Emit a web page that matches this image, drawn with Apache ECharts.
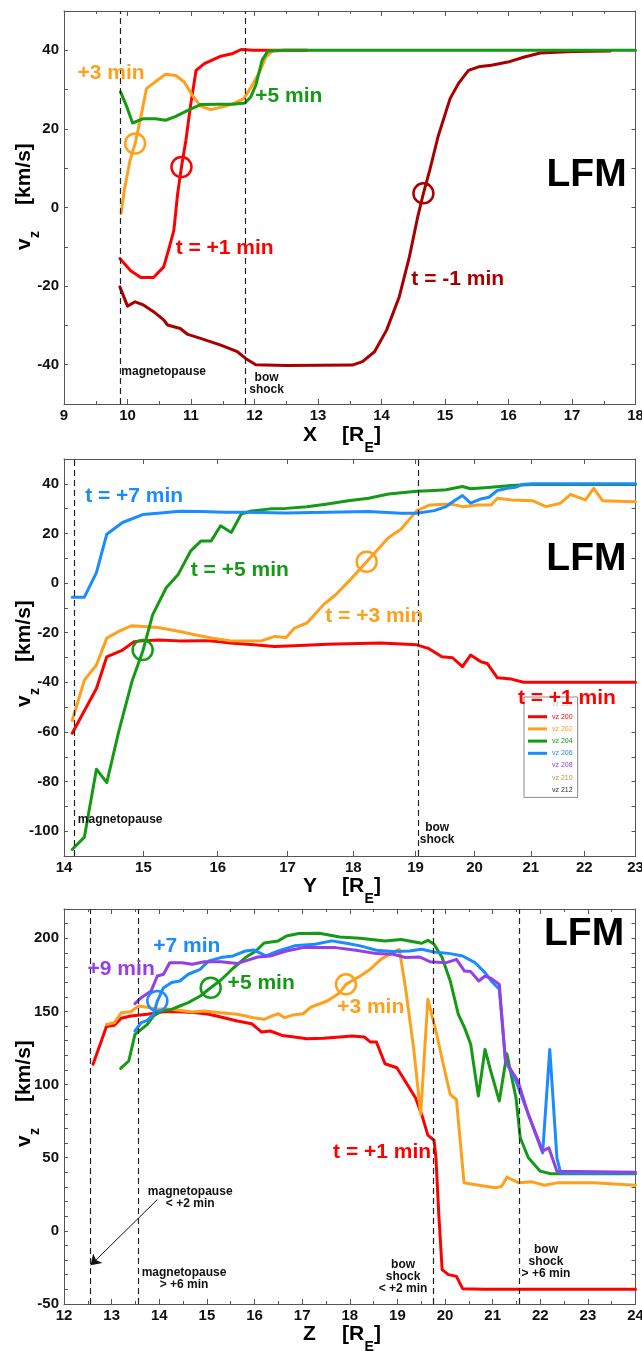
<!DOCTYPE html>
<html>
<head>
<meta charset="utf-8">
<title>LFM v_z cuts</title>
<script src="https://cdn.jsdelivr.net/npm/echarts@6/dist/echarts.min.js"></script>
<style>
  html, body { margin: 0; padding: 0; background: #ffffff; }
  #chart { width: 642px; height: 1351px; }
</style>
</head>
<body>
<div id="chart"></div>
<script>
// ---------------- data: v_z [km/s] along three cuts ----------------

// Cut along X [R_E]
const X_LABELS_V = [-40, -20, 0, 20, 40];
const X_BOUNDS = [9.88, 11.86];                       // magnetopause, bow shock
const X_T_M1 = [[9.88,-20.2],[10.0,-25.1],[10.12,-24.0],[10.25,-24.8],[10.41,-26.5],[10.57,-28.6],[10.63,-29.9],[10.83,-30.8],[10.95,-32.3],[11.15,-33.3],[11.47,-35.0],[11.73,-36.7],[11.86,-38.4],[12.02,-40.0],[12.5,-40.2],[13.54,-40.1],[13.7,-39.2],[13.89,-36.7],[14.08,-31.2],[14.28,-22.7],[14.44,-12.5],[14.57,-2.4],[14.66,3.6],[14.76,9.5],[14.89,18.0],[15.08,27.7],[15.21,31.5],[15.37,34.9],[15.53,35.8],[15.73,36.2],[15.99,37.0],[16.25,38.3],[16.5,39.3],[17.02,39.7],[17.6,39.8]];
const X_T_P1 = [[9.88,-13.0],[10.05,-16.1],[10.21,-17.8],[10.41,-17.8],[10.57,-15.1],[10.66,-10.0],[10.73,-5.8],[10.79,3.6],[10.85,10.3],[10.92,17.1],[10.99,25.6],[11.08,34.9],[11.21,36.6],[11.47,38.5],[11.66,39.2],[11.79,40.2],[11.99,40],[12.83,40]];
const X_T_P3 = [[9.9,-1.5],[9.95,4.4],[10.04,12.0],[10.12,16.3],[10.21,23.1],[10.3,30.3],[10.44,32.0],[10.6,33.9],[10.76,33.6],[10.89,32.0],[11.02,28.6],[11.15,25.8],[11.31,24.9],[11.5,25.6],[11.66,26.4],[11.83,27.7],[11.95,30.7],[12.08,34.5],[12.18,38.3],[12.28,39.8],[12.5,40]];
const X_T_P5 = [[9.89,29.4],[9.99,25.6],[10.08,21.5],[10.25,22.6],[10.44,22.6],[10.6,22.2],[10.76,23.2],[10.95,24.7],[11.15,26.2],[11.41,26.3],[11.66,26.3],[11.85,26.6],[11.94,28.1],[12.02,31.1],[12.12,37.5],[12.21,39.8],[12.5,40],[18,40]];
const X_MARK_M1 = [14.66, 3.6];
const X_MARK_P1 = [10.85, 10.3];
const X_MARK_P3 = [10.12, 16.3];

// Cut along Y [R_E] (logarithmic distance axis)
const Y_TICKS = [14, 15, 16, 17, 18, 19, 20, 21, 22, 23];
const Y_LABELS_V = [-100, -80, -60, -40, -20, 0, 20, 40];
const Y_BOUNDS = [14.12, 19.05];
const Y_T_P1 = [[14.1,-60.5],[14.4,-42.5],[14.53,-29.7],[14.73,-27.0],[14.88,-23.6],[14.99,-23.3],[15.19,-22.9],[15.48,-23.3],[15.82,-23.2],[16.0,-23.6],[16.17,-24.2],[16.51,-24.9],[16.81,-25.6],[17.1,-25.3],[17.6,-24.7],[18.43,-24.2],[19.02,-24.9],[19.21,-26.3],[19.44,-29.7],[19.62,-30.1],[19.79,-33.7],[19.93,-29.0],[20.11,-31.7],[20.22,-32.4],[20.4,-38.2],[20.65,-38.7],[20.87,-40.0],[23,-40.0]];
const Y_T_P3 = [[14.1,-55.4],[14.25,-39.1],[14.4,-33.0],[14.53,-22.2],[14.68,-19.5],[14.85,-17.2],[14.99,-17.5],[15.19,-17.9],[15.48,-19.5],[15.7,-20.9],[15.93,-22.2],[16.17,-23.2],[16.39,-23.3],[16.63,-23.2],[16.81,-21.5],[16.98,-21.9],[17.1,-18.2],[17.29,-16.1],[17.54,-8.7],[17.73,-4.6],[17.98,2.1],[18.21,8.6],[18.56,18.4],[18.76,21.7],[19.02,29.2],[19.24,31.5],[19.58,31.9],[19.72,31.2],[19.79,30.8],[20.06,31.5],[20.29,31.5],[20.4,34.2],[20.65,33.5],[21.03,33.2],[21.28,30.8],[21.55,32.2],[21.74,35.7],[22.02,33.5],[22.18,38.2],[22.35,33.2],[23,32.8]];
const Y_T_P5 = [[14.1,-107.4],[14.25,-102.4],[14.4,-75.0],[14.53,-80.4],[14.68,-60.1],[14.85,-39.8],[14.99,-27.6],[15.12,-12.8],[15.3,-1.9],[15.46,3.5],[15.63,13],[15.77,17],[15.91,17],[16.04,23.1],[16.19,20.4],[16.33,27.8],[16.45,28.9],[16.75,29.9],[16.98,30.1],[17.29,30.8],[17.6,31.9],[17.92,33.2],[18.24,34.2],[18.56,35.9],[19.02,37.0],[19.31,37.3],[19.51,37.6],[19.79,38.9],[19.93,38.0],[20.29,38.6],[20.65,39.3],[21.03,39.7],[23,39.7]];
const Y_T_P7 = [[14.1,-5.7],[14.25,-5.7],[14.4,4.2],[14.53,19.7],[14.73,24.4],[14.99,27.6],[15.19,28.1],[15.48,28.9],[15.76,28.8],[16.1,28.5],[16.39,28.5],[16.98,28.2],[17.6,28.5],[18.24,28.8],[18.76,28.1],[19.02,28.1],[19.31,29.2],[19.51,30.8],[19.65,33.2],[19.79,35.3],[19.93,32.2],[20.11,33.9],[20.25,34.6],[20.4,37.3],[20.58,38.2],[20.72,38.6],[20.84,39.7],[21.03,40],[23,40]];
const Y_MARK_P5 = [14.99, -27];
const Y_MARK_P3 = [18.21, 8.6];

// Cut along Z [R_E]
const Z_LABELS_V = [-50, 0, 50, 100, 150, 200];
const Z_BOUNDS = [12.55, 13.56, 19.75, 21.55];        // magnetopause <+2 / >+6 min, bow shock <+2 / >+6 min
const Z_T_P1 = [[12.61,113.8],[12.76,127.5],[12.89,139.6],[13.06,140.5],[13.2,145.3],[13.4,146.9],[13.75,148],[14.09,149.8],[14.43,149.8],[14.78,149.1],[15.04,148],[15.29,146.2],[15.64,143.4],[15.94,141.6],[16.15,135.9],[16.33,136.6],[16.58,133.6],[16.84,132.5],[17.1,131.3],[17.45,131.6],[17.79,132.5],[18.05,133.2],[18.31,132.5],[18.43,129.1],[18.56,129.1],[18.74,114.2],[18.99,111.5],[19.12,104.7],[19.25,97.8],[19.38,91],[19.51,79.6],[19.64,65.4],[19.77,61.8],[19.81,49.9],[19.87,11.1],[19.94,-26.5],[20.07,-29.9],[20.24,-31.1],[20.37,-39.5],[20.8,-40],[24,-40]];
const Z_T_P3 = [[12.89,141.1],[13.06,142.3],[13.2,149.1],[13.4,149.8],[13.57,153.7],[13.92,151.9],[14.26,151.4],[14.69,149.6],[14.95,150.3],[15.29,149.1],[15.64,148],[15.98,145.7],[16.2,144.6],[16.37,146.9],[16.5,148.4],[16.63,145.7],[16.8,147.5],[17.02,148.4],[17.19,153],[17.53,157.1],[17.79,162.8],[17.92,168.5],[18.22,174.2],[18.43,178.8],[18.65,185.6],[18.86,189.5],[19.04,192.5],[19.17,166.2],[19.34,125.2],[19.49,79.6],[19.64,158.3],[19.81,136.6],[19.98,111.5],[20.11,93.2],[20.24,89.8],[20.4,32.8],[20.71,31.2],[21.06,29.4],[21.19,30.5],[21.3,36.7],[21.55,32.8],[21.83,33.5],[22.09,31.2],[22.35,32.8],[23.12,32.8],[24,31.2]];
const Z_T_P5 = [[13.19,111],[13.36,116.1],[13.49,134.3],[13.75,141.1],[13.88,146.9],[14.05,150.3],[14.26,151.4],[14.43,153.7],[14.61,156],[14.86,160.5],[15.08,166.2],[15.29,171.3],[15.55,179.5],[15.81,186.8],[16.03,191.3],[16.2,196.8],[16.5,198.2],[16.67,201.6],[16.93,203.2],[17.36,203.4],[17.79,200.9],[18.22,200],[18.74,198.2],[19.08,199.1],[19.51,196.6],[19.64,198.6],[19.77,195.9],[19.94,186.8],[20.11,170.8],[20.28,148],[20.41,138.9],[20.54,127.5],[20.7,92.1],[20.84,124],[20.97,108.1],[21.14,88.7],[21.3,121],[21.49,91],[21.58,63.6],[21.75,50],[22.0,40.8],[22.22,39],[24,39]];
const Z_T_P7 = [[13.49,136.6],[13.62,142.3],[13.75,143.9],[13.88,148],[13.96,157.1],[14.09,166.2],[14.26,169.7],[14.43,170.8],[14.61,175.4],[14.86,178.8],[15.04,184.5],[15.29,186.8],[15.55,187.9],[15.81,191.3],[15.98,192],[16.24,187.9],[16.5,191.3],[16.84,194.8],[17.27,195.9],[17.62,198.2],[17.96,196.4],[18.22,194.8],[18.56,191.8],[18.91,190.9],[19.25,191.3],[19.51,192.5],[19.77,190.6],[20.11,189.5],[20.37,187.9],[20.63,183.3],[20.84,176.5],[20.97,170.8],[21.14,165.1],[21.27,116.1],[21.49,102.4],[21.75,79.6],[22.05,53.3],[22.2,124],[22.35,49.9],[22.43,39.5],[24,39.5]];
const Z_T_P9 = [[13.49,155.3],[13.62,159.4],[13.83,164],[13.96,174.2],[14.09,175.4],[14.22,183.3],[14.48,183.3],[14.69,182.2],[14.95,184],[15.29,184],[15.64,182.7],[15.81,184.5],[16.07,187.2],[16.33,187.9],[16.67,191.3],[17.02,193.6],[17.36,193.6],[17.7,193.6],[18.13,191.8],[18.56,189.5],[18.91,189.1],[19.17,186.8],[19.47,187.2],[19.68,184],[20.03,183.3],[20.24,185.6],[20.41,177.6],[20.54,177.2],[20.71,170.8],[20.84,174.2],[20.97,172.6],[21.14,168.5],[21.27,116.1],[21.53,102.4],[21.75,79.6],[22.05,54.5],[22.18,56.8],[22.35,40.8],[24,40]];
const Z_MARK_P7 = [13.96, 157.1];
const Z_MARK_P5 = [15.08, 166.2];
const Z_MARK_P3 = [17.92, 168.5];
const Z_ARROW = [[13.96, 21.4], [12.56, -23.5]];

// ---------------- styling ----------------
const FONT = "'Liberation Sans', Arial, Helvetica, sans-serif";
const AXIS = '#555555';
const COL = {
  darkred: '#a80000', red: '#ff0000', orange: '#ffa01c',
  green: '#159a15', blue: '#1a8cff', purple: '#9440e6'
};

const GRIDS = [
  { left: 64, right: 6.5, top: 11, height: 393 },
  { left: 64, right: 6.5, top: 459, height: 397 },
  { left: 64, right: 6.5, top: 909, height: 395 }
];

function tickStyle(len) {
  return { show: true, inside: true, length: len, lineStyle: { color: AXIS, width: 1 } };
}
const axisLine = { show: true, onZero: false, lineStyle: { color: AXIS, width: 1 } };
const tickFont = { color: '#111', fontSize: 15, fontWeight: 'bold', fontFamily: FONT };

function xAxes(p, spec) {
  const base = {
    gridIndex: p, min: spec.min, max: spec.max,
    axisLine, splitLine: { show: false }
  };
  const bottom = Object.assign({}, base, {
    type: spec.log ? 'log' : 'value', position: 'bottom',
    axisLabel: Object.assign({ margin: 4 }, tickFont),
    axisTick: tickStyle(5)
  });
  const top = Object.assign({}, base, {
    type: spec.log ? 'log' : 'value', position: 'top',
    axisLabel: { show: false }, axisTick: tickStyle(5)
  });
  [bottom, top].forEach(a => {
    if (spec.log) {
      a.logBase = 10;
      a.axisTick.customValues = spec.ticks;
      if (a.axisLabel.show !== false) a.axisLabel.customValues = spec.ticks;
      a.minorTick = { show: false };
    } else {
      a.interval = 1;
      a.minorTick = { show: true, splitNumber: 2, length: 3, lineStyle: { color: AXIS, width: 1 } };
    }
  });
  return [bottom, top];
}

function yAxes(p, min, max, labels) {
  const base = {
    type: 'value', gridIndex: p, min, max, interval: 10,
    axisLine, splitLine: { show: false }, axisTick: tickStyle(4)
  };
  return [
    Object.assign({}, base, {
      position: 'left',
      axisLabel: Object.assign({ margin: 5, formatter: v => labels.includes(v) ? String(v) : '' }, tickFont)
    }),
    Object.assign({}, base, { position: 'right', axisLabel: { show: false } })
  ];
}

function line(p, name, data, color, extra) {
  return Object.assign({
    type: 'line', name, xAxisIndex: 2 * p, yAxisIndex: 2 * p, data,
    symbol: 'none', showSymbol: false, silent: true,
    lineStyle: { color, width: 3, join: 'round', cap: 'round', opacity: 1 },
    itemStyle: { color, opacity: 1 }, z: 3
  }, extra || {});
}

function boundaries(values) {
  return {
    silent: true, symbol: 'none', animation: false,
    label: { show: false },
    lineStyle: { type: [6, 4], color: '#222', width: 1.2, opacity: 1 },
    data: values.map(v => ({ xAxis: v }))
  };
}

function rings(p, marks) {
  return {
    type: 'scatter', xAxisIndex: 2 * p, yAxisIndex: 2 * p, silent: true, z: 5,
    symbol: 'circle', symbolSize: 20,
    data: marks.map(m => ({
      value: m.at,
      itemStyle: { color: 'rgba(0,0,0,0)', borderColor: m.color, borderWidth: 2.5, opacity: 1 }
    }))
  };
}

function notes(p, items) {
  return {
    type: 'scatter', xAxisIndex: 2 * p, yAxisIndex: 2 * p, silent: true, z: 6,
    symbol: 'rect', symbolSize: 1, itemStyle: { color: 'rgba(0,0,0,0)', opacity: 1 },
    data: items.map(n => ({
      value: n.at,
      label: {
        show: true, position: 'inside', formatter: n.text, opacity: 1,
        color: n.color || '#111', fontSize: n.size, lineHeight: n.lh || n.size,
        fontWeight: 'bold', fontFamily: FONT, align: 'center', verticalAlign: 'middle',
        textBorderWidth: 0
      }
    }))
  };
}

const BIG = 21, SMALL = 12;

const series = [
  // ---- X cut ----
  line(0, 'X t-1', X_T_M1, COL.darkred, { markLine: boundaries(X_BOUNDS) }),
  line(0, 'X t+1', X_T_P1, COL.red),
  line(0, 'X t+3', X_T_P3, COL.orange),
  line(0, 'X t+5', X_T_P5, COL.green),
  rings(0, [
    { at: X_MARK_M1, color: COL.darkred },
    { at: X_MARK_P1, color: COL.red },
    { at: X_MARK_P3, color: COL.orange }
  ]),
  notes(0, [
    { at: [9.74, 34.2], text: '+3 min', color: COL.orange, size: BIG },
    { at: [12.54, 28.3], text: '+5 min', color: COL.green, size: BIG },
    { at: [11.53, -10.3], text: 't = +1 min', color: COL.red, size: BIG },
    { at: [15.2, -18.2], text: 't = -1 min', color: COL.darkred, size: BIG },
    { at: [17.23, 8.3], text: 'LFM', color: '#000', size: 39 },
    { at: [10.57, -41.8], text: 'magnetopause', size: SMALL },
    { at: [12.19, -44.8], text: 'bow\nshock', size: SMALL }
  ]),

  // ---- Y cut ----
  line(1, 'vz 200', Y_T_P1, COL.red, { markLine: boundaries(Y_BOUNDS) }),
  line(1, 'vz 202', Y_T_P3, COL.orange),
  line(1, 'vz 204', Y_T_P5, COL.green),
  line(1, 'vz 206', Y_T_P7, COL.blue),
  line(1, 'vz 198', [], '#c8c8c8'),
  line(1, 'vz 208', [], COL.purple),
  line(1, 'vz 210', [], '#b8963c'),
  line(1, 'vz 212', [], '#333333'),
  rings(1, [
    { at: Y_MARK_P5, color: COL.green },
    { at: Y_MARK_P3, color: COL.orange }
  ]),
  notes(1, [
    { at: [14.88, 34.9], text: 't = +7 min', color: COL.blue, size: BIG },
    { at: [16.31, 5.1], text: 't = +5 min', color: COL.green, size: BIG },
    { at: [18.33, -13.2], text: 't = +3 min', color: COL.orange, size: BIG },
    { at: [21.67, -46.6], text: 't = +1 min', color: COL.red, size: BIG },
    { at: [22.04, 9.6], text: 'LFM', color: '#000', size: 39 },
    { at: [14.7, -95.5], text: 'magnetopause', size: SMALL },
    { at: [19.36, -101.2], text: 'bow\nshock', size: SMALL }
  ]),

  // ---- Z cut ----
  line(2, 'Z t+1', Z_T_P1, COL.red, { markLine: boundaries(Z_BOUNDS) }),
  line(2, 'Z t+3', Z_T_P3, COL.orange, {
    markLine: {
      silent: true, animation: false, label: { show: false },
      symbol: ['none', 'arrow'], symbolSize: 10,
      itemStyle: { color: '#111', opacity: 1 },
      lineStyle: { type: 'solid', color: '#111', width: 1, opacity: 1 },
      data: [[{ coord: Z_ARROW[0] }, { coord: Z_ARROW[1] }]]
    }
  }),
  line(2, 'Z t+5', Z_T_P5, COL.green),
  line(2, 'Z t+7', Z_T_P7, COL.blue),
  line(2, 'Z t+9', Z_T_P9, COL.purple),
  rings(2, [
    { at: Z_MARK_P7, color: COL.blue },
    { at: Z_MARK_P5, color: COL.green },
    { at: Z_MARK_P3, color: COL.orange }
  ]),
  notes(2, [
    { at: [14.58, 194.8], text: '+7 min', color: COL.blue, size: BIG },
    { at: [13.2, 178.8], text: '+9 min', color: COL.purple, size: BIG },
    { at: [16.14, 169], text: '+5 min', color: COL.green, size: BIG },
    { at: [18.44, 153], text: '+3 min', color: COL.orange, size: BIG },
    { at: [18.68, 54], text: 't = +1 min', color: COL.red, size: BIG },
    { at: [22.92, 202.7], text: 'LFM', color: '#000', size: 39 },
    { at: [14.65, 23], text: 'magnetopause\n< +2 min', size: SMALL },
    { at: [14.52, -32.4], text: 'magnetopause\n> +6 min', size: SMALL },
    { at: [19.12, -31.3], text: 'bow\nshock\n< +2 min', size: SMALL },
    { at: [22.12, -20.8], text: 'bow\nshock\n> +6 min', size: SMALL }
  ])
];

// ---------------- axis titles ----------------
function txt(x, y, text, size, extra) {
  return {
    type: 'text', x, y, silent: true,
    style: Object.assign({
      text, fontSize: size, fontWeight: 'bold', fontFamily: FONT,
      fill: '#000', align: 'left', verticalAlign: 'middle'
    }, extra || {})
  };
}
function xTitle(letter, cy) {
  return [
    txt(303, cy, letter, 21),
    txt(342, cy, '[R', 21),
    txt(364.5, cy + 13, 'E', 14),
    txt(374, cy, ']', 21)
  ];
}
function yTitle(cx, yStart) {
  return {
    type: 'group', x: cx, y: yStart, rotation: Math.PI / 2, silent: true,
    children: [
      txt(0, 0, 'v', 21),
      txt(12, 11, 'z', 14),
      txt(45, 0, '[km/s]', 21)
    ]
  };
}

const graphic = [].concat(
  xTitle('X', 435), xTitle('Y', 886), xTitle('Z', 1334),
  [yTitle(24.5, 250), yTitle(24.5, 707), yTitle(24.5, 1147)]
);

const option = {
  animation: false,
  backgroundColor: '#ffffff',
  grid: GRIDS.map(g => Object.assign({ containLabel: false, outerBoundsMode: 'none' }, g)),
  xAxis: [].concat(
    xAxes(0, { min: 9, max: 18 }),
    xAxes(1, { min: 14, max: 23, log: true, ticks: Y_TICKS }),
    xAxes(2, { min: 12, max: 24 })
  ),
  yAxis: [].concat(
    yAxes(0, -50, 50, X_LABELS_V),
    yAxes(1, -110, 50, Y_LABELS_V),
    yAxes(2, -50, 220, Z_LABELS_V)
  ),
  legend: {
    left: 524, top: 697, orient: 'vertical',
    padding: [3, 5, 3, 4], itemGap: 3.2, itemWidth: 19, itemHeight: 3,
    borderColor: '#8a8a8a', borderWidth: 1, backgroundColor: 'rgba(0,0,0,0)',
    selectedMode: false,
    textStyle: { fontSize: 7, lineHeight: 9, fontFamily: FONT },
    data: [
      { name: 'vz 198', icon: 'none', textStyle: { color: '#c8c8c8' } },
      { name: 'vz 200', icon: 'rect', textStyle: { color: COL.red } },
      { name: 'vz 202', icon: 'rect', textStyle: { color: COL.orange } },
      { name: 'vz 204', icon: 'rect', textStyle: { color: COL.green } },
      { name: 'vz 206', icon: 'rect', textStyle: { color: COL.blue } },
      { name: 'vz 208', icon: 'none', textStyle: { color: COL.purple } },
      { name: 'vz 210', icon: 'none', textStyle: { color: '#b8963c' } },
      { name: 'vz 212', icon: 'none', textStyle: { color: '#333333' } }
    ]
  },
  graphic,
  series
};

const chart = echarts.init(document.getElementById('chart'), null, { renderer: 'canvas' });
chart.setOption(option);
</script>
</body>
</html>
